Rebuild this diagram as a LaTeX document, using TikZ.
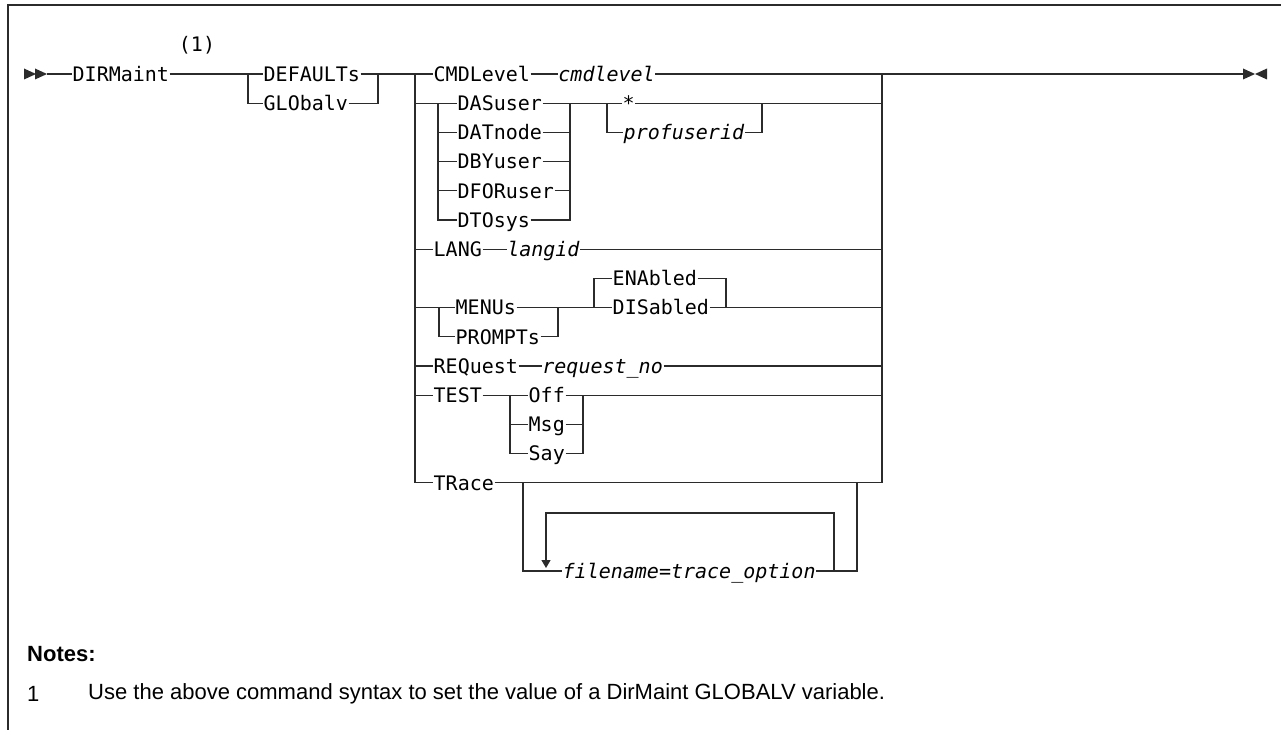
\documentclass[tikz,border=0pt]{standalone}
\usepackage{fontspec}
\usepackage{tikz}
\usetikzlibrary{positioning,arrows.meta}
\newfontfamily\railfont{DejaVu Sans Mono}
\newfontfamily\notefont{Liberation Sans}
\definecolor{railInk}{HTML}{2B2B2B}
\newcommand{\railsize}{\fontsize{20}{24}\selectfont}
\newcommand{\notesize}{\fontsize{22}{26}\selectfont}
\newcommand{\railtip}[3]{\fill[railInk] (#1,#2) -- ++({#3*12},-5.5) -- ++(0,11) -- cycle;}
\tikzset{
  keyword/.style={font=\railfont\railsize,inner xsep=0.5pt,inner ysep=0pt,
    text height=18pt,text depth=3.4pt,anchor=west},
  varname/.style={keyword,font=\railfont\railsize\itshape},
  rail/.style={draw=railInk,line width=1.3pt},
  repeatrail/.style={rail,-{Triangle[length=8pt,width=9pt]},shorten >=3pt},
  frameline/.style={draw=railInk,line width=1.5pt},
  notelabel/.style={font=\notefont\notesize,anchor=west,inner sep=0pt}
}

\begin{document}
\begin{tikzpicture}[x=1pt,y=-1pt]
  \useasboundingbox (0,0) rectangle (1281,730);
  \draw[frameline] (8,730) -- (8,5) -- (1281,5);

  % command name and the two statement forms
  \railtip{36}{74}{-1}
  \railtip{47}{74}{-1}
  \coordinate (start) at (47,74);
  \node[keyword] (dirm) at (72,74) {DIRMaint};
  \node[keyword,anchor=center] (ref1) at (197,44) {(1)};
  \node[keyword] (deflt) at (263,74) {DEFAULTs};
  \node[keyword] (globv) at (263,103.2) {GLObalv};
  \coordinate (gA) at (248,74);
  \coordinate (gB) at (378,74);

  % operands
  \coordinate (L) at (415,74);
  \coordinate (R) at (882,74);
  \coordinate (fin) at (1243,74);
  \node[keyword] (cmdl) at (433,74) {CMDLevel};
  \node[varname,right=27pt of cmdl] (cmdlv) {cmdlevel};

  \foreach \nm/\lbl/\yy in {das1/DASuser/103.2,das2/DATnode/132.4,das3/DBYuser/161.6,
      das4/DFORuser/190.8,das5/DTOsys/220}
    \node[keyword] (\nm) at (457,\yy) {\lbl};
  \coordinate (dA) at (438,103.2);
  \coordinate (dB) at (570,103.2);
  \node[keyword] (star) at (622,103.2) {*};
  \node[varname] (puid) at (623,132.4) {profuserid};
  \coordinate (pA) at (607,103.2);
  \coordinate (pB) at (762,103.2);

  \node[keyword] (lang) at (433,249.2) {LANG};
  \node[varname,right=24pt of lang] (langid) {langid};

  \node[keyword] (menus) at (455,307.6) {MENUs};
  \node[keyword] (prmpt) at (455,336.8) {PROMPTs};
  \coordinate (mA) at (439,307.6);
  \coordinate (mB) at (558,307.6);
  \node[keyword] (enab) at (612,278.4) {ENAbled};
  \node[keyword] (disab) at (612,307.6) {DISabled};
  \coordinate (eA) at (594,307.6);
  \coordinate (eB) at (726,307.6);

  \node[keyword] (req) at (433,366) {REQuest};
  \node[varname,right=23pt of req] (reqno) {request\_no};

  \node[keyword] (test) at (433,395.2) {TEST};
  \node[keyword] (off) at (528,395.2) {Off};
  \node[keyword] (msg) at (528,424.4) {Msg};
  \node[keyword] (say) at (528,453.6) {Say};
  \coordinate (tA) at (510,395.2);
  \coordinate (tB) at (583,395.2);

  \node[keyword] (trace) at (433,482.8) {TRace};
  \node[varname] (fname) at (562,571) {filename=trace\_option};
  \coordinate (oA) at (523,482.8);
  \coordinate (oB) at (857,482.8);
  \coordinate (rA) at (546,571);
  \coordinate (rB) at (834,571);

  % main line
  \draw[rail] (start) -- (dirm.west);
  \draw[rail] (dirm.east) -- (deflt.west);
  \draw[rail] (gA) |- (globv.west);
  \draw[rail] (globv.east) -| (gB);
  \draw[rail] (deflt.east) -- (cmdl.west);
  \draw[rail] (cmdl.east) -- (cmdlv.west);
  \draw[rail] (cmdlv.east) -- (fin);
  \draw[rail] (L) |- (trace.west);
  \draw[rail] (R) -- (R |- trace.east);
  \railtip{1255}{74}{-1}
  \railtip{1255}{74}{1}

  % default user operands
  \draw[rail] (L |- das1.west) -- (das1.west);
  \draw[rail] (dA) |- (das5.west);
  \foreach \nm in {das2,das3,das4}{
    \draw[rail] (dA |- \nm.west) -- (\nm.west);
    \draw[rail] (\nm.east) -- (dB |- \nm.east);
  }
  \draw[rail] (das5.east) -| (dB);
  \draw[rail] (das1.east) -- (star.west);
  \draw[rail] (star.east) -- (R |- star.east);
  \draw[rail] (pA) |- (puid.west);
  \draw[rail] (puid.east) -| (pB);

  \draw[rail] (L |- lang.west) -- (lang.west);
  \draw[rail] (lang.east) -- (langid.west);
  \draw[rail] (langid.east) -- (R |- langid.east);

  \draw[rail] (L |- menus.west) -- (menus.west);
  \draw[rail] (mA) |- (prmpt.west);
  \draw[rail] (prmpt.east) -| (mB);
  \draw[rail] (menus.east) -- (disab.west);
  \draw[rail] (eA) |- (enab.west);
  \draw[rail] (enab.east) -| (eB);
  \draw[rail] (disab.east) -- (R |- disab.east);

  \draw[rail] (L |- req.west) -- (req.west);
  \draw[rail] (req.east) -- (reqno.west);
  \draw[rail] (reqno.east) -- (R |- reqno.east);

  \draw[rail] (L |- test.west) -- (test.west);
  \draw[rail] (test.east) -- (off.west);
  \draw[rail] (tA) |- (say.west);
  \draw[rail] (tA |- msg.west) -- (msg.west);
  \draw[rail] (msg.east) -- (tB |- msg.east);
  \draw[rail] (say.east) -| (tB);
  \draw[rail] (off.east) -- (R |- off.east);

  % trace options
  \draw[rail] (trace.east) -- (R |- trace.east);
  \draw[rail] (oA) |- (fname.west);
  \draw[rail] (fname.east) -| (oB);
  \draw[repeatrail] (rB) -- ++(0,-58) -| (rA);

  % notes
  \node[notelabel,font=\notefont\bfseries\notesize] (notes) at (27,654) {Notes:};
  \node[notelabel] (n1num) at (27,694) {1};
  \node[notelabel] (n1txt) at (88,694) {Use the above command syntax to set the value of a DirMaint GLOBALV variable.};
\end{tikzpicture}
\end{document}
